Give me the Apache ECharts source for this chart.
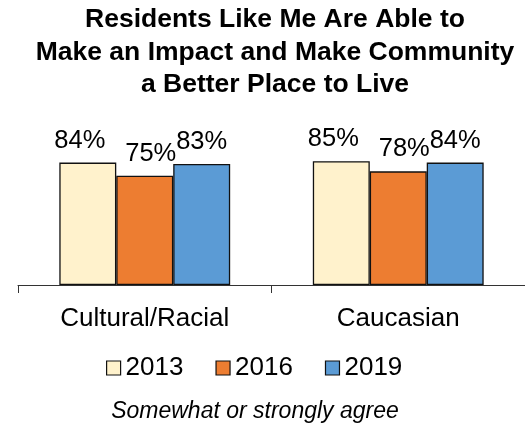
<!DOCTYPE html>
<html>
<head>
<meta charset="utf-8">
<script src="https://cdn.jsdelivr.net/npm/echarts@6/dist/echarts.min.js"></script>
<style>
html,body{margin:0;padding:0;background:#fff;}
#chart{width:525px;height:425px;}
</style>
</head>
<body>
<div id="chart"></div>
<script>
const categories = ['Cultural/Racial', 'Caucasian'];
const seriesNames = ['2013', '2016', '2019'];
const values2013 = [84, 85];
const values2016 = [75, 78];
const values2019 = [83, 84];
const titleText = 'Residents Like Me Are Able to\nMake an Impact and Make Community\na Better Place to Live';
const noteText = 'Somewhat or strongly agree';

const colors = ['#FFF2CC', '#ED7D31', '#5B9BD5'];
const labelOffsets = [[-8, 0], [6, 0], [0, 0]];
const seriesData = [values2013, values2016, values2019];
const FONT = 'Liberation Sans, Arial, sans-serif';

const chart = echarts.init(document.getElementById('chart'), null, {renderer: 'canvas'});
chart.setOption({
  animation: false,
  backgroundColor: '#fff',
  title: [{
    text: titleText,
    left: 275,
    top: 3.5,
    padding: 0,
    textAlign: 'center',
    textStyle: {fontFamily: FONT, fontWeight: 'bold', fontSize: 26.5, lineHeight: 32.5, color: '#000'}
  }, {
    text: noteText,
    left: 255,
    top: 400,
    padding: 0,
    textAlign: 'center',
    textStyle: {fontFamily: FONT, fontStyle: 'italic', fontWeight: 'normal', fontSize: 23, color: '#000'}
  }],
  legend: {
    data: seriesNames,
    left: 106,
    top: 355,
    padding: 0,
    itemWidth: 14,
    itemHeight: 14,
    itemGap: 32,
    icon: 'rect',
    itemStyle: {borderColor: '#111', borderWidth: 1.2},
    textStyle: {fontFamily: FONT, fontSize: 26, color: '#000'}
  },
  grid: {left: 18, right: -5, top: 139.3, bottom: 140, containLabel: false},
  xAxis: {
    type: 'category',
    data: categories,
    axisLine: {lineStyle: {color: '#333', width: 1}},
    axisTick: {show: true, length: 8, lineStyle: {color: '#333', width: 1}},
    axisLabel: {interval: 0, margin: 21, fontFamily: FONT, fontSize: 26, color: '#000'},
    splitLine: {show: false}
  },
  yAxis: {
    type: 'value', min: 0, max: 100, show: false, splitLine: {show: false}
  },
  series: seriesNames.map((name, i) => ({
    name: name,
    type: 'bar',
    data: seriesData[i],
    barGap: '0%',
    barCategoryGap: '32.6%',
    itemStyle: {color: colors[i], borderColor: '#111', borderWidth: 1.3},
    label: {
      show: true,
      position: 'top',
      distance: 9,
      offset: labelOffsets[i],
      formatter: '{c}%',
      fontFamily: FONT,
      fontSize: 25.5,
      color: '#000'
    }
  }))
});
</script>
</body>
</html>
